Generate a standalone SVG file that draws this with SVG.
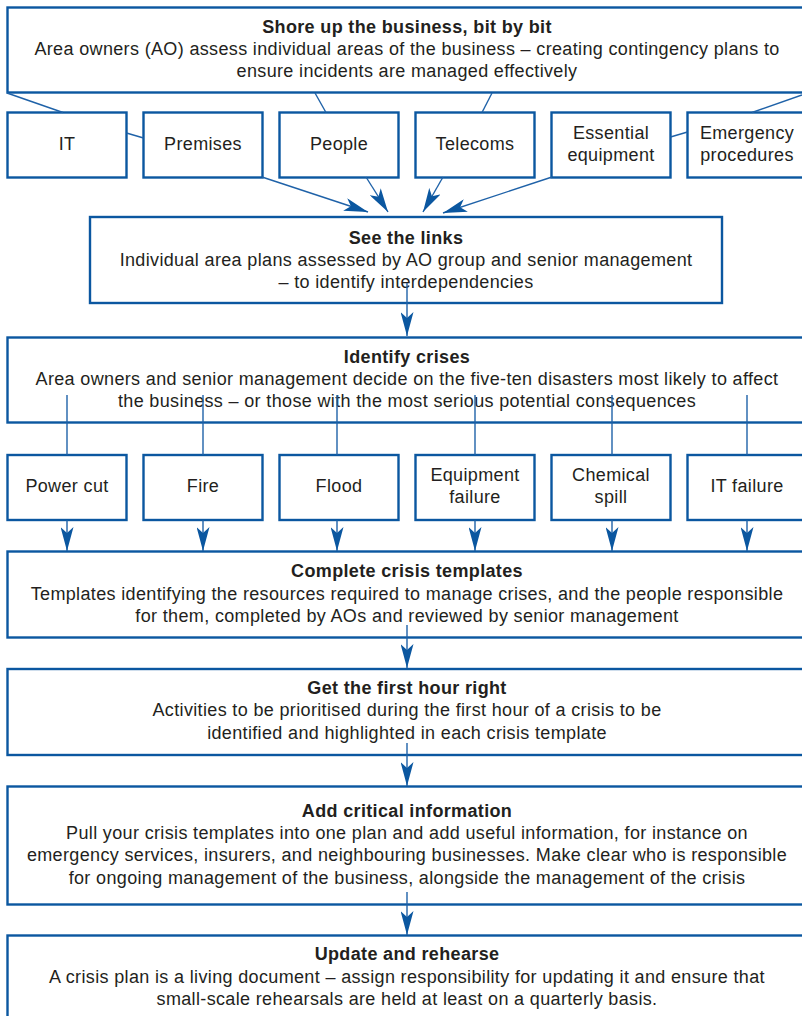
<svg xmlns="http://www.w3.org/2000/svg" width="802" height="1016" viewBox="0 0 802 1016">
<style>
.box{fill:#fff;stroke:#0b57a0;stroke-width:2.4}
.ln{fill:none;stroke:#1f62a8;stroke-width:1.4}
text{font-family:"Liberation Sans",Arial,Helvetica,sans-serif;font-size:18px;letter-spacing:0.35px;fill:#231f20;text-anchor:middle}
.t{font-weight:bold}
</style>
<defs>
<marker id="ah" markerUnits="userSpaceOnUse" viewBox="0 0 24 13" markerWidth="24" markerHeight="13" refX="24" refY="6.5" orient="auto">
<path d="M0,0 L24,6.5 L0,13 L6,6.5 Z" fill="#0b57a0"/>
</marker>
</defs>
<rect width="802" height="1016" fill="#fff"/>
<g id="shore">
<rect class="box" x="7.5" y="7.5" width="810" height="85"/>
<text class="t" x="407" y="33">Shore up the business, bit by bit</text>
<text x="407" y="55">Area owners (AO) assess individual areas of the business – creating contingency plans to</text>
<text x="407" y="77">ensure incidents are managed effectively</text>
</g>
<g id="it"><rect class="box" x="7.5" y="112.5" width="119" height="65"/><text x="67" y="150">IT</text></g>
<g id="premises"><rect class="box" x="143.5" y="112.5" width="119" height="65"/><text x="203" y="150">Premises</text></g>
<g id="people"><rect class="box" x="279.5" y="112.5" width="119" height="65"/><text x="339" y="150">People</text></g>
<g id="telecoms"><rect class="box" x="415.5" y="112.5" width="119" height="65"/><text x="475" y="150">Telecoms</text></g>
<g id="essential"><rect class="box" x="551.5" y="112.5" width="119" height="65"/><text x="611" y="138.5">Essential</text><text x="611" y="160.5">equipment</text></g>
<g id="emergency"><rect class="box" x="687.5" y="112.5" width="119" height="65"/><text x="747" y="138.5">Emergency</text><text x="747" y="160.5">procedures</text></g>
<g id="links">
<rect class="box" x="90" y="217" width="632" height="86"/>
<text class="t" x="406" y="243.5">See the links</text>
<text x="406" y="265.5">Individual area plans assessed by AO group and senior management</text>
<text x="406" y="288">– to identify interdependencies</text>
</g>
<g id="identify">
<rect class="box" x="7.5" y="337.5" width="810" height="85"/>
<text class="t" x="407" y="363">Identify crises</text>
<text x="407" y="385">Area owners and senior management decide on the five-ten disasters most likely to affect</text>
<text x="407" y="407">the business – or those with the most serious potential consequences</text>
</g>
<g id="power"><rect class="box" x="7.5" y="455" width="119" height="65"/><text x="67" y="492">Power cut</text></g>
<g id="fire"><rect class="box" x="143.5" y="455" width="119" height="65"/><text x="203" y="492">Fire</text></g>
<g id="flood"><rect class="box" x="279.5" y="455" width="119" height="65"/><text x="339" y="492">Flood</text></g>
<g id="equipment"><rect class="box" x="415.5" y="455" width="119" height="65"/><text x="475" y="481">Equipment</text><text x="475" y="503">failure</text></g>
<g id="chemical"><rect class="box" x="551.5" y="455" width="119" height="65"/><text x="611" y="481">Chemical</text><text x="611" y="503">spill</text></g>
<g id="itfailure"><rect class="box" x="687.5" y="455" width="119" height="65"/><text x="747" y="492">IT failure</text></g>
<g id="templates">
<rect class="box" x="7.5" y="551.5" width="810" height="86"/>
<text class="t" x="407" y="577">Complete crisis templates</text>
<text x="407" y="599.5">Templates identifying the resources required to manage crises, and the people responsible</text>
<text x="407" y="622">for them, completed by AOs and reviewed by senior management</text>
</g>
<g id="firsthour">
<rect class="box" x="7.5" y="669" width="810" height="86"/>
<text class="t" x="407" y="693.5">Get the first hour right</text>
<text x="407" y="716">Activities to be prioritised during the first hour of a crisis to be</text>
<text x="407" y="738.5">identified and highlighted in each crisis template</text>
</g>
<g id="critical">
<rect class="box" x="7.5" y="786.5" width="810" height="118"/>
<text class="t" x="407" y="817">Add critical information</text>
<text x="407" y="839">Pull your crisis templates into one plan and add useful information, for instance on</text>
<text x="407" y="861">emergency services, insurers, and neighbouring businesses. Make clear who is responsible</text>
<text x="407" y="883.5">for ongoing management of the business, alongside the management of the crisis</text>
</g>
<g id="update">
<rect class="box" x="7.5" y="935.5" width="810" height="100"/>
<text class="t" x="407" y="960">Update and rehearse</text>
<text x="407" y="983">A crisis plan is a living document – assign responsibility for updating it and ensure that</text>
<text x="407" y="1005">small-scale rehearsals are held at least on a quarterly basis.</text>
</g>
<g id="connectors">
<line class="ln" x1="7" y1="93" x2="63" y2="112.5"/>
<line class="ln" x1="126.5" y1="133" x2="143.5" y2="138"/>
<line class="ln" x1="315" y1="93" x2="326" y2="112.5"/>
<line class="ln" x1="492" y1="93" x2="482" y2="112.5"/>
<line class="ln" x1="670.5" y1="137" x2="687.5" y2="132"/>
<line class="ln" x1="802" y1="95" x2="752" y2="112.5"/>
<line class="ln" x1="262" y1="177" x2="368" y2="212" marker-end="url(#ah)"/>
<line class="ln" x1="366" y1="177" x2="388" y2="212" marker-end="url(#ah)"/>
<line class="ln" x1="443" y1="177" x2="423" y2="212" marker-end="url(#ah)"/>
<line class="ln" x1="552" y1="177" x2="443" y2="213" marker-end="url(#ah)"/>
<line class="ln" x1="407" y1="283" x2="407" y2="336" marker-end="url(#ah)"/>
<line class="ln" x1="67" y1="395" x2="67" y2="455"/>
<line class="ln" x1="203" y1="395" x2="203" y2="455"/>
<line class="ln" x1="337" y1="395" x2="337" y2="455"/>
<line class="ln" x1="475" y1="395" x2="475" y2="455"/>
<line class="ln" x1="612" y1="395" x2="612" y2="455"/>
<line class="ln" x1="747" y1="395" x2="747" y2="455"/>
<line class="ln" x1="67" y1="520" x2="67" y2="551" marker-end="url(#ah)"/>
<line class="ln" x1="203" y1="520" x2="203" y2="551" marker-end="url(#ah)"/>
<line class="ln" x1="337" y1="520" x2="337" y2="551" marker-end="url(#ah)"/>
<line class="ln" x1="475" y1="520" x2="475" y2="551" marker-end="url(#ah)"/>
<line class="ln" x1="612" y1="520" x2="612" y2="551" marker-end="url(#ah)"/>
<line class="ln" x1="747" y1="520" x2="747" y2="551" marker-end="url(#ah)"/>
<line class="ln" x1="407" y1="625" x2="407" y2="668" marker-end="url(#ah)"/>
<line class="ln" x1="407" y1="743" x2="407" y2="786" marker-end="url(#ah)"/>
<line class="ln" x1="407" y1="892" x2="407" y2="935" marker-end="url(#ah)"/>
</g>
</svg>
